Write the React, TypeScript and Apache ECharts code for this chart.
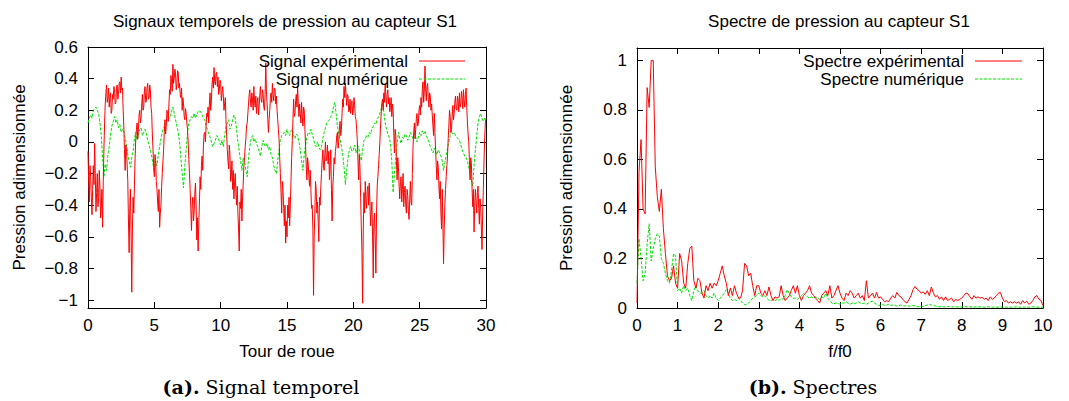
import React, { useEffect, useRef } from 'react';
import * as echarts from 'echarts';

// ---- Data ----
// Experimental pressure signal, one value every 0.05 wheel revolution (0 -> 30), one row per revolution
const SIGNAL_EXP_STEP = 0.05;
const signalExp = [
  -0.06, -0.25, -0.38, -0.15, -0.22, -0.35, -0.46, -0.30, -0.15, -0.27, -0.01, -0.20, -0.44, -0.32, -0.20, -0.41, -0.35, -0.18, -0.28, -0.48,
  -0.42, -0.30, -0.54, -0.25, -0.05, 0.12, 0.24, 0.31, 0.36, 0.25, 0.28, 0.34, 0.22, 0.29, 0.31, 0.18, 0.20, 0.30, 0.27, 0.35,
  0.33, 0.24, 0.25, 0.34, 0.36, 0.27, 0.30, 0.37, 0.38, 0.31, 0.41, 0.33, 0.34, 0.20, 0.10, -0.05, -0.18, -0.02, -0.05, -0.14,
  -0.25, -0.50, -0.70, -0.42, -0.30, -0.60, -0.95, -0.55, -0.35, -0.45, -0.28, -0.10, 0.02, 0.08, 0.12, 0.02, 0.08, 0.17, 0.20, 0.12,
  0.15, 0.24, 0.30, 0.20, 0.22, 0.32, 0.35, 0.25, 0.26, 0.34, 0.37, 0.27, 0.28, 0.36, 0.33, 0.22, 0.18, 0.05, -0.05, -0.15,
  -0.22, -0.08, -0.12, -0.25, -0.30, -0.38, -0.44, -0.30, -0.54, -0.45, -0.40, -0.28, -0.20, -0.12, -0.05, 0.06, 0.14, 0.05, 0.10, 0.20,
  0.18, 0.13, 0.24, 0.33, 0.30, 0.42, 0.38, 0.32, 0.49, 0.37, 0.40, 0.46, 0.43, 0.33, 0.36, 0.45, 0.44, 0.34, 0.37, 0.30,
  0.28, 0.34, 0.20, 0.28, 0.24, 0.16, 0.14, 0.21, 0.18, 0.12, 0.08, 0.00, -0.11, -0.20, -0.30, -0.42, -0.56, -0.40, -0.35, -0.50,
  -0.45, -0.33, -0.26, -0.40, -0.62, -0.48, -0.69, -0.52, -0.38, -0.22, -0.30, -0.15, -0.09, -0.18, -0.02, 0.05, 0.06, 0.00, 0.10, 0.18,
  0.16, 0.22, 0.12, 0.24, 0.31, 0.20, 0.26, 0.36, 0.41, 0.34, 0.47, 0.38, 0.36, 0.43, 0.44, 0.35, 0.41, 0.30, 0.33, 0.39,
  0.37, 0.26, 0.30, 0.35, 0.29, 0.20, 0.24, 0.28, 0.14, 0.05, -0.05, -0.12, -0.17, -0.02, -0.08, -0.25, -0.22, -0.12, -0.30, -0.18,
  -0.36, -0.25, -0.20, -0.33, -0.40, -0.28, -0.45, -0.55, -0.69, -0.38, -0.42, -0.30, -0.50, -0.35, -0.26, -0.15, -0.10, -0.03, 0.02, 0.10,
  0.12, 0.18, 0.24, 0.30, 0.33, 0.25, 0.22, 0.31, 0.27, 0.20, 0.35, 0.26, 0.22, 0.29, 0.18, 0.25, 0.28, 0.17, 0.22, 0.30,
  0.35, 0.27, 0.25, 0.33, 0.30, 0.22, 0.20, 0.30, 0.50, 0.32, 0.24, 0.15, 0.06, 0.14, 0.20, 0.28, 0.31, 0.25, 0.37, 0.30,
  0.26, 0.34, 0.33, 0.24, 0.29, 0.20, 0.14, 0.08, 0.02, -0.10, -0.20, -0.32, -0.45, -0.25, -0.30, -0.42, -0.53, -0.40, -0.64, -0.50,
  -0.60, -0.40, -0.48, -0.35, -0.53, -0.40, -0.25, -0.10, 0.01, 0.15, 0.27, 0.16, 0.18, 0.26, 0.30, 0.22, 0.35, 0.24, 0.16, 0.24,
  0.18, 0.12, 0.25, 0.16, 0.10, 0.22, 0.20, 0.08, -0.03, -0.15, -0.24, -0.10, -0.14, -0.22, -0.28, -0.18, -0.30, -0.42, -0.40, -0.55,
  -0.97, -0.60, -0.45, -0.25, -0.30, -0.45, -0.38, -0.50, -0.63, -0.35, -0.40, -0.28, -0.20, -0.12, -0.05, -0.15, -0.18, -0.08, 0.00, -0.12,
  -0.10, -0.02, -0.14, -0.06, -0.24, -0.15, -0.05, -0.30, -0.50, -0.28, -0.22, -0.10, -0.14, -0.06, -0.02, 0.04, 0.06, -0.04, 0.00, 0.08,
  0.13, 0.04, 0.08, 0.18, 0.27, 0.22, 0.35, 0.28, 0.37, 0.30, 0.23, 0.30, 0.29, 0.19, 0.20, 0.27, 0.18, 0.25, 0.26, 0.17,
  0.21, 0.28, 0.23, 0.16, 0.14, 0.08, 0.01, -0.12, -0.24, -0.08, -0.16, -0.35, -0.53, -0.70, -1.02, -0.55, -0.32, -0.45, -0.25, -0.38,
  -0.42, -0.30, -0.28, -0.40, -0.26, -0.38, -0.53, -0.44, -0.38, -0.60, -0.86, -0.50, -0.45, -0.62, -0.83, -0.45, -0.28, -0.22, -0.15, -0.08,
  0.00, 0.10, 0.18, 0.24, 0.27, 0.20, 0.31, 0.25, 0.37, 0.29, 0.22, 0.30, 0.33, 0.24, 0.28, 0.19, 0.23, 0.28, 0.16, 0.24,
  0.20, 0.05, -0.07, 0.08, 0.04, -0.12, -0.24, -0.10, -0.16, -0.28, -0.36, -0.25, -0.22, -0.38, -0.30, -0.20, -0.41, -0.32, -0.28, -0.40,
  -0.45, -0.30, -0.34, -0.44, -0.49, -0.36, -0.25, -0.38, -0.40, -0.20, -0.03, 0.06, 0.12, 0.02, 0.08, 0.15, 0.18, 0.10, 0.12, 0.20,
  0.23, 0.17, 0.28, 0.22, 0.33, 0.38, 0.25, 0.32, 0.48, 0.34, 0.26, 0.35, 0.37, 0.27, 0.22, 0.31, 0.29, 0.20, 0.24, 0.17,
  0.10, 0.04, 0.18, 0.06, -0.05, -0.15, -0.24, -0.12, -0.16, -0.28, -0.36, -0.25, -0.45, -0.55, -0.30, -0.50, -0.77, -0.55, -0.40, -0.30,
  -0.22, -0.15, -0.09, 0.02, 0.10, 0.20, 0.16, 0.06, 0.08, 0.17, 0.23, 0.14, 0.18, 0.25, 0.29, 0.21, 0.20, 0.29, 0.26, 0.19,
  0.31, 0.22, 0.24, 0.32, 0.28, 0.21, 0.33, 0.26, 0.22, 0.30, 0.34, 0.22, 0.12, 0.05, 0.00, -0.12, -0.24, -0.10, -0.14, -0.30,
  -0.41, -0.30, -0.57, -0.40, -0.30, -0.38, -0.45, -0.32, -0.28, -0.42, -0.52, -0.36, -0.40, -0.55, -0.68, -0.45, -0.30, -0.12, 0.02, 0.12,
  0.15,
];

// Numerical pressure signal, one value every 0.1 wheel revolution (0 -> 30), one row per revolution
const SIGNAL_NUM_STEP = 0.1;
const signalNum = [
  0.12, 0.15, 0.17, 0.15, 0.20, 0.21, 0.22, 0.20, 0.18, 0.12,
  0.04, -0.10, -0.22, -0.14, -0.18, -0.08, -0.03, 0.05, 0.10, 0.13,
  0.16, 0.12, 0.14, 0.09, 0.11, 0.06, 0.08, 0.07, 0.03, -0.02,
  -0.08, -0.12, -0.16, -0.10, -0.06, 0.02, 0.06, 0.01, 0.04, 0.08,
  0.09, 0.04, 0.06, 0.08, 0.05, 0.01, -0.02, -0.05, -0.09, -0.14,
  -0.19, -0.12, -0.15, -0.08, -0.03, 0.02, 0.06, 0.09, 0.10, 0.12,
  0.13, 0.15, 0.16, 0.19, 0.22, 0.18, 0.14, 0.10, 0.06, 0.00,
  -0.10, -0.20, -0.29, -0.15, -0.05, 0.06, 0.12, 0.14, 0.16, 0.15,
  0.18, 0.15, 0.17, 0.19, 0.20, 0.19, 0.17, 0.15, 0.14, 0.10,
  0.08, 0.05, 0.03, 0.00, -0.03, -0.01, 0.01, 0.04, 0.03, 0.00,
  -0.02, 0.01, -0.03, 0.04, 0.10, 0.12, 0.14, 0.08, 0.10, 0.14,
  0.17, 0.15, 0.08, 0.00, -0.06, -0.12, -0.18, -0.10, -0.12, -0.18,
  -0.22, -0.10, -0.03, 0.02, 0.04, 0.00, 0.02, -0.01, -0.03, -0.06,
  -0.09, -0.03, 0.01, -0.02, -0.03, -0.01, -0.05, -0.03, -0.08, -0.10,
  -0.15, -0.18, -0.20, -0.12, -0.05, 0.01, 0.04, 0.05, 0.06, 0.04,
  0.08, 0.05, 0.04, 0.07, 0.08, 0.04, 0.02, 0.05, 0.04, 0.00,
  -0.05, -0.12, -0.18, -0.08, -0.02, 0.03, 0.06, 0.05, 0.08, 0.05,
  0.02, -0.02, -0.03, 0.00, -0.03, -0.05, -0.03, 0.02, 0.06, 0.09,
  0.12, 0.13, 0.14, 0.16, 0.18, 0.22, 0.25, 0.18, 0.10, 0.05,
  0.02, -0.03, -0.08, -0.16, -0.27, -0.18, -0.10, -0.05, -0.03, -0.06,
  -0.05, -0.02, -0.07, -0.04, -0.03, -0.08, -0.12, -0.05, 0.01, 0.02,
  0.04, 0.03, 0.06, 0.05, 0.08, 0.10, 0.12, 0.11, 0.14, 0.16,
  0.18, 0.21, 0.26, 0.19, 0.12, 0.08, 0.05, 0.03, -0.01, -0.12,
  -0.32, -0.20, -0.10, -0.01, 0.06, 0.02, -0.01, 0.03, 0.02, 0.05,
  0.04, 0.01, 0.03, 0.06, 0.04, 0.02, 0.06, 0.03, 0.00, 0.03,
  0.06, 0.04, 0.07, 0.05, 0.07, 0.04, 0.02, 0.00, -0.03, -0.05,
  -0.07, -0.04, -0.06, -0.08, -0.05, -0.07, -0.09, -0.12, -0.18, -0.13,
  -0.09, -0.04, 0.00, 0.04, 0.07, 0.05, 0.06, 0.04, 0.03, 0.02,
  0.01, -0.02, -0.05, -0.07, -0.09, -0.10, -0.12, -0.16, -0.20, -0.24,
  -0.28, -0.15, -0.05, 0.04, 0.12, 0.16, 0.18, 0.15, 0.13, 0.15,
  0.14,
];

// Spectra, one value every 0.05 f/f0 (0 -> 10)
const SPECTRUM_STEP = 0.05;
const spectrumExp = [
  0.02, 0.55, 0.68, 0.40, 0.38, 0.89, 0.81, 1.00, 1.00, 0.57,
  0.45, 0.39, 0.48, 0.32, 0.22, 0.13, 0.11, 0.12, 0.17, 0.10,
  0.08, 0.22, 0.19, 0.10, 0.08, 0.18, 0.24, 0.25, 0.11, 0.08,
  0.12, 0.11, 0.06, 0.04, 0.09, 0.07, 0.10, 0.08, 0.10, 0.09,
  0.11, 0.14, 0.17, 0.13, 0.10, 0.05, 0.08, 0.05, 0.09, 0.06,
  0.04, 0.04, 0.07, 0.18, 0.17, 0.13, 0.14, 0.09, 0.05, 0.09,
  0.09, 0.06, 0.05, 0.07, 0.05, 0.085, 0.05, 0.03, 0.045, 0.04,
  0.045, 0.09, 0.05, 0.03, 0.04, 0.05, 0.07, 0.09, 0.06, 0.09,
  0.05, 0.03, 0.05, 0.06, 0.07, 0.09, 0.06, 0.05, 0.04, 0.03,
  0.02, 0.05, 0.06, 0.07, 0.05, 0.09, 0.04, 0.05, 0.07, 0.09,
  0.06, 0.04, 0.03, 0.06, 0.05, 0.07, 0.06, 0.04, 0.05, 0.06,
  0.04, 0.05, 0.03, 0.11, 0.04, 0.05, 0.06, 0.04, 0.063, 0.04,
  0.045, 0.035, 0.025, 0.03, 0.025, 0.04, 0.05, 0.04, 0.063, 0.05,
  0.045, 0.035, 0.025, 0.02, 0.035, 0.05, 0.075, 0.087, 0.075, 0.07,
  0.06, 0.065, 0.055, 0.07, 0.05, 0.085, 0.06, 0.045, 0.05, 0.035,
  0.045, 0.03, 0.045, 0.03, 0.035, 0.04, 0.025, 0.035, 0.03, 0.035,
  0.04, 0.05, 0.06, 0.058, 0.045, 0.035, 0.05, 0.04, 0.045, 0.04,
  0.043, 0.035, 0.04, 0.03, 0.045, 0.035, 0.04, 0.05, 0.06, 0.063,
  0.04, 0.025, 0.03, 0.02, 0.025, 0.02, 0.025, 0.02, 0.025, 0.015,
  0.03, 0.02, 0.028, 0.015, 0.02, 0.03, 0.045, 0.05, 0.035, 0.03,
  0.01,
];
const spectrumNum = [
  0.10, 0.28, 0.20, 0.11, 0.14, 0.26, 0.34, 0.19, 0.24, 0.28,
  0.30, 0.29, 0.20, 0.18, 0.14, 0.11, 0.10, 0.15, 0.22, 0.21,
  0.07, 0.08, 0.06, 0.09, 0.07, 0.08, 0.05, 0.03, 0.07, 0.09,
  0.07, 0.06, 0.06, 0.07, 0.05, 0.04, 0.05, 0.04, 0.06, 0.04,
  0.03, 0.04, 0.05, 0.06, 0.075, 0.06, 0.04, 0.03, 0.035, 0.03,
  0.04, 0.03, 0.02, 0.013, 0.015, 0.02, 0.03, 0.04, 0.045, 0.05,
  0.06, 0.05, 0.045, 0.05, 0.04, 0.03, 0.03, 0.035, 0.03, 0.035,
  0.03, 0.04, 0.035, 0.05, 0.074, 0.06, 0.045, 0.04, 0.04, 0.035,
  0.04, 0.05, 0.06, 0.05, 0.045, 0.04, 0.045, 0.04, 0.045, 0.04,
  0.035, 0.045, 0.04, 0.06, 0.04, 0.03, 0.02, 0.017, 0.02, 0.02,
  0.015, 0.02, 0.02, 0.025, 0.02, 0.015, 0.02, 0.017, 0.02, 0.025,
  0.02, 0.018, 0.02, 0.015, 0.02, 0.025, 0.027, 0.02, 0.015, 0.01,
  0.012, 0.015, 0.01, 0.012, 0.015, 0.01, 0.012, 0.01, 0.008, 0.01,
  0.012, 0.01, 0.008, 0.01, 0.007, 0.008, 0.01, 0.008, 0.006, 0.005,
  0.007, 0.006, 0.01, 0.012, 0.015, 0.012, 0.01, 0.008, 0.006, 0.005,
  0.006, 0.005, 0.004, 0.006, 0.005, 0.004, 0.005, 0.006, 0.004, 0.005,
  0.004, 0.005, 0.006, 0.004, 0.005, 0.004, 0.003, 0.005, 0.004, 0.005,
  0.004, 0.003, 0.004, 0.005, 0.004, 0.003, 0.004, 0.003, 0.004, 0.005,
  0.004, 0.003, 0.004, 0.003, 0.004, 0.003, 0.004, 0.005, 0.004, 0.003,
  0.004, 0.003, 0.004, 0.003, 0.004, 0.005, 0.004, 0.003, 0.004, 0.003,
  0.004,
];

// Texts
const titles = ['Signaux temporels de pression au capteur S1', 'Spectre de pression au capteur S1'];
const xNames = ['Tour de roue', 'f/f0'];
const yName = 'Pression adimensionnée';
const seriesNames = [
  ['Signal expérimental', 'Signal numérique'],
  ['Spectre expérimental', 'Spectre numérique'],
];
const captions = [
  ['(a).', 'Signal temporel'],
  ['(b).', 'Spectres'],
];

const FONT = '"Liberation Sans", Arial, Helvetica, sans-serif';
const SERIF = '"DejaVu Serif", "Liberation Serif", serif';
const RED = '#ff0000';
const GREEN = '#00e000';

const yFmt = (v: number) => {
  if (Math.abs(v / 0.2 - Math.round(v / 0.2)) > 1e-6) return '';
  const r = Math.round(v * 10) / 10;
  return String(r).replace('-', '\u2212');
};

const toPairs = (arr: number[], step: number) => arr.map((v, i) => [+(i * step).toFixed(4), v]);

function axisBase(grid: number, position: string, showLabel: boolean, extra: any) {
  return {
    type: 'value',
    gridIndex: grid,
    position,
    axisLine: { show: true, onZero: false, lineStyle: { color: '#000', width: 1 } },
    axisTick: { show: true, inside: true, length: 6, lineStyle: { color: '#000', width: 1 } },
    axisLabel: { show: showLabel, color: '#000', fontSize: 17, fontFamily: FONT, margin: 10 },
    splitLine: { show: false },
    ...extra,
  };
}

export default function App() {
  const ref = useRef<HTMLDivElement>(null);

  useEffect(() => {
    if (!ref.current) return;
    const chart = echarts.init(ref.current, undefined, { renderer: 'svg' });

    const nameStyle = { color: '#000', fontSize: 17, fontFamily: FONT };
    const labelStyle = { show: true, color: '#000', fontSize: 17, fontFamily: FONT };

    const xAxes = [
      axisBase(0, 'bottom', true, {
        min: 0, max: 30, interval: 5,
        name: xNames[0], nameLocation: 'middle', nameGap: 35, nameTextStyle: nameStyle,
        axisLabel: { ...labelStyle, margin: 9 },
      }),
      axisBase(0, 'top', false, { min: 0, max: 30, interval: 5 }),
      axisBase(1, 'bottom', true, {
        min: 0, max: 10, interval: 1,
        name: xNames[1], nameLocation: 'middle', nameGap: 35, nameTextStyle: nameStyle,
        axisLabel: { ...labelStyle, margin: 9 },
      }),
      axisBase(1, 'top', false, { min: 0, max: 10, interval: 1 }),
    ];

    const yAxes = [
      axisBase(0, 'left', true, {
        min: -1.05, max: 0.6, splitNumber: 8,
        name: yName, nameLocation: 'middle', nameRotate: 90, nameGap: 60, nameTextStyle: nameStyle,
        axisLabel: { ...labelStyle, margin: 10, formatter: yFmt },
      }),
      axisBase(0, 'right', false, { min: -1.05, max: 0.6, splitNumber: 8 }),
      axisBase(1, 'left', true, {
        min: 0, max: 1.05, interval: 0.2,
        name: yName, nameLocation: 'middle', nameRotate: 90, nameGap: 62, nameTextStyle: nameStyle,
        axisLabel: { ...labelStyle, margin: 10, formatter: yFmt },
      }),
      axisBase(1, 'right', false, { min: 0, max: 1.05, interval: 0.2 }),
    ];

    const legendGraphics: any[] = [];
    const legendRight = [408, 964];
    const lineStart = [419, 975];
    const lineEnd = [465, 1022];
    const rows = [61, 79];
    for (let p = 0; p < 2; p++) {
      for (let r = 0; r < 2; r++) {
        legendGraphics.push({
          type: 'text',
          style: {
            text: seriesNames[p][r],
            x: legendRight[p], y: rows[r],
            align: 'right', verticalAlign: 'middle',
            textAlign: 'right', textVerticalAlign: 'middle',
            fill: '#000', fontSize: 17, fontFamily: FONT,
          },
          z: 100,
        });
        legendGraphics.push({
          type: 'line',
          shape: { x1: lineStart[p], y1: rows[r], x2: lineEnd[p], y2: rows[r] },
          style: r === 0
            ? { stroke: RED, lineWidth: 1 }
            : { stroke: GREEN, lineWidth: 1, lineDash: [3, 1.5] },
          z: 100,
        });
      }
    }

    const captionCenters = [261, 813];
    const captionGraphics = captions.map((c, i) => ({
      type: 'text',
      style: {
        text: `{b|${c[0]}} ${c[1]}`,
        x: captionCenters[i], y: 387,
        align: 'center', verticalAlign: 'middle',
        textAlign: 'center', textVerticalAlign: 'middle',
        fill: '#000', fontSize: 19, fontFamily: SERIF,
        rich: { b: { fontWeight: 'bold', fontSize: 19, fontFamily: SERIF, fill: '#000' } },
      },
    }));

    chart.setOption({
      animation: false,
      backgroundColor: '#fff',
      title: [
        {
          text: titles[0], left: 285, top: 13, textAlign: 'center', padding: 0,
          textStyle: { fontSize: 17, fontWeight: 'normal', color: '#000', fontFamily: FONT },
        },
        {
          text: titles[1], left: 839, top: 13, textAlign: 'center', padding: 0,
          textStyle: { fontSize: 17, fontWeight: 'normal', color: '#000', fontFamily: FONT },
        },
      ],
      grid: [
        { left: 88, top: 47, width: 398, height: 261, containLabel: false },
        { left: 637, top: 48, width: 406, height: 260, containLabel: false },
      ],
      xAxis: xAxes,
      yAxis: yAxes,
      series: [
        {
          name: seriesNames[0][0], type: 'line', xAxisIndex: 0, yAxisIndex: 0,
          data: toPairs(signalExp, SIGNAL_EXP_STEP), symbol: 'none',
          lineStyle: { color: RED, width: 1 }, itemStyle: { color: RED }, z: 3,
        },
        {
          name: seriesNames[0][1], type: 'line', xAxisIndex: 0, yAxisIndex: 0,
          data: toPairs(signalNum, SIGNAL_NUM_STEP), symbol: 'none',
          lineStyle: { color: GREEN, width: 1, type: [3, 1.5] }, itemStyle: { color: GREEN }, z: 2,
        },
        {
          name: seriesNames[1][0], type: 'line', xAxisIndex: 2, yAxisIndex: 2,
          data: toPairs(spectrumExp, SPECTRUM_STEP), symbol: 'none',
          lineStyle: { color: RED, width: 1 }, itemStyle: { color: RED }, z: 3,
        },
        {
          name: seriesNames[1][1], type: 'line', xAxisIndex: 2, yAxisIndex: 2,
          data: toPairs(spectrumNum, SPECTRUM_STEP), symbol: 'none',
          lineStyle: { color: GREEN, width: 1, type: [3, 1.5] }, itemStyle: { color: GREEN }, z: 2,
        },
      ],
      graphic: [...legendGraphics, ...captionGraphics],
    });

    return () => chart.dispose();
  }, []);

  return (
    <div
      ref={ref}
      style={{ position: 'absolute', left: 0, top: 0, width: 1069, height: 401, background: '#fff' }}
    />
  );
}
